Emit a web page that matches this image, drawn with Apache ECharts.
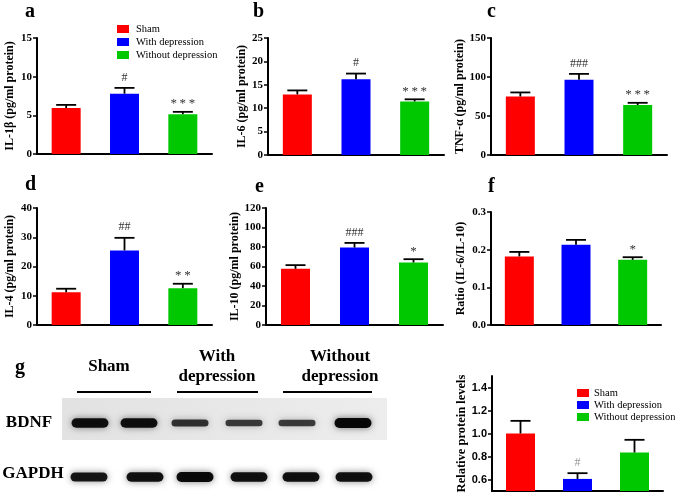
<!DOCTYPE html>
<html><head><meta charset="utf-8">
<script src="https://cdn.jsdelivr.net/npm/echarts@6/dist/echarts.min.js"></script>
<style>html,body{margin:0;padding:0;background:#fff}#c{width:675px;height:503px}</style>
</head><body><div id="c"></div>
<script>
// ---------- data ----------
const groups = ['Sham', 'With depression', 'Without depression'];

const il1bMean = [5.95, 7.8, 5.15];
const il1bErr  = [0.4, 0.75, 0.3];
const il1bSig  = ['', '#', '***'];

const il6Mean = [12.95, 16.2, 11.45];
const il6Err  = [0.85, 1.2, 0.45];
const il6Sig  = ['', '#', '***'];

const tnfMean = [75, 96.5, 64];
const tnfErr  = [5.2, 7.5, 2.9];
const tnfSig  = ['', '###', '***'];

const il4Mean = [11.2, 25.5, 12.6];
const il4Err  = [1.2, 4.3, 1.5];
const il4Sig  = ['', '##', '**'];

const il10Mean = [57.6, 79.4, 64.1];
const il10Err  = [3.8, 4.8, 3.4];
const il10Sig  = ['', '###', '*'];

const ratioMean = [0.182, 0.213, 0.173];
const ratioErr  = [0.012, 0.013, 0.007];
const ratioSig  = ['', '', '*'];

const bdnfMean = [1.0, 0.605, 0.835];
const bdnfErr  = [0.11, 0.05, 0.11];
const bdnfSig  = ['', '#', ''];

const bdnfTicks = [0.6, 0.8, 1.0, 1.2, 1.4];

// western blot band darkness (lanes: Sham x2, With x2, Without x2)
const bdnfBand  = [0.95, 0.95, 0.7, 0.65, 0.65, 1.0];
const gapdhBand = [0.9, 0.95, 1.0, 0.95, 0.95, 0.95];

// ---------- styles / layout ----------
const colors = ['#ff0000', '#0000ff', '#00c800'];
const SERIF = '"Liberation Serif", "Times New Roman", serif';
const SANS = '"Liberation Sans", Arial, sans-serif';

const panels = [
  {mean: il1bMean, err: il1bErr, sig: il1bSig, title: 'IL-1β (pg/ml protein)', grid: {left: 37, top: 38, width: 175, height: 116}, min: 0, max: 15, interval: 5, dec: 0, nameGap: 21},
  {mean: il6Mean, err: il6Err, sig: il6Sig, title: 'IL-6 (pg/ml protein)', grid: {left: 268, top: 38, width: 176, height: 117}, min: 0, max: 25, interval: 5, dec: 0, nameGap: 19},
  {mean: tnfMean, err: tnfErr, sig: tnfSig, title: 'TNF-α (pg/ml protein)', grid: {left: 491, top: 38, width: 176, height: 117}, min: 0, max: 150, interval: 50, dec: 0, nameGap: 23},
  {mean: il4Mean, err: il4Err, sig: il4Sig, title: 'IL-4 (pg/ml protein)', grid: {left: 37, top: 208, width: 175, height: 117}, min: 0, max: 40, interval: 10, dec: 0, nameGap: 21},
  {mean: il10Mean, err: il10Err, sig: il10Sig, title: 'IL-10 (pg/ml protein)', grid: {left: 266, top: 208, width: 177, height: 117}, min: 0, max: 120, interval: 20, dec: 0, nameGap: 22},
  {mean: ratioMean, err: ratioErr, sig: ratioSig, title: 'Ratio (IL-6/IL-10)', grid: {left: 491, top: 212, width: 170, height: 113}, min: 0, max: 0.3, interval: 0.1, dec: 1, nameGap: 24},
  {mean: bdnfMean, err: bdnfErr, sig: bdnfSig, title: 'Relative protein levels', grid: {left: 492, top: 376, width: 171, height: 115}, min: 0.5, max: 1.5, custom: bdnfTicks, dec: 1, nameGap: 21, sans: true, sigColor: '#999', titleSize: 12.5}
];

// asterisks are spread a little, as in the figure
const sigText = s => s.charAt(0) === '*' ? s.split('').join('\u2009') : s;

const grid = [], xAxis = [], yAxis = [], series = [];
panels.forEach((p, i) => {
  grid.push(Object.assign({containLabel: false}, p.grid));
  xAxis.push({
    type: 'category', gridIndex: i, data: groups,
    axisLine: {lineStyle: {color: '#000', width: 2}},
    axisTick: {alignWithLabel: true, length: 4, lineStyle: {color: '#000', width: 1.5}},
    axisLabel: {show: false}, splitLine: {show: false}
  });
  const y = {
    type: 'value', gridIndex: i, min: p.min, max: p.max,
    name: p.title, nameLocation: 'middle', nameGap: p.nameGap, nameRotate: 90,
    nameTextStyle: {fontFamily: SERIF, fontWeight: 'bold', fontSize: p.titleSize || 12, color: '#000'},
    axisLine: {show: true, lineStyle: {color: '#000', width: 2}},
    axisTick: {show: true, length: 4, lineStyle: {color: '#000', width: 1.5}},
    axisLabel: {margin: 5, fontFamily: p.sans ? SANS : SERIF, fontWeight: 'bold', fontSize: 11, color: '#000',
      formatter: v => Number(v).toFixed(p.dec)},
    splitLine: {show: false}
  };
  if (p.custom) {
    y.axisLabel.customValues = p.custom;
    y.axisTick.customValues = p.custom;
  } else {
    y.interval = p.interval;
  }
  yAxis.push(y);
  groups.forEach((g, k) => {
    series.push({
      type: 'bar', name: g, xAxisIndex: i, yAxisIndex: i,
      data: p.mean.map((v, j) => j === k ? v : '-'),
      barWidth: 29, barGap: '-100%', silent: true,
      itemStyle: {color: colors[k]}
    });
  });
  series.push({
    type: 'custom', xAxisIndex: i, yAxisIndex: i, silent: true, z: 5,
    data: p.mean.map((v, j) => [j, v, p.err[j]]),
    encode: {x: 0, y: 1},
    renderItem: (params, api) => {
      const x = api.value(0), m = api.value(1), e = api.value(2);
      const b = api.coord([x, m]);
      const t = api.coord([x, m + e]);
      const ch = [
        {type: 'line', shape: {x1: b[0], y1: b[1], x2: t[0], y2: t[1]}, style: {stroke: '#000', lineWidth: 1.8}},
        {type: 'line', shape: {x1: t[0] - 10, y1: t[1], x2: t[0] + 10, y2: t[1]}, style: {stroke: '#000', lineWidth: 1.8}}
      ];
      const s = p.sig[params.dataIndex];
      if (s) {
        const star = s.charAt(0) === '*';
        ch.push({type: 'text', style: {text: sigText(s), x: t[0], y: t[1] - (star ? 8 : 10.5), align: 'center', verticalAlign: 'middle',
          font: (star ? '13px ' : '12px ') + SERIF, fill: p.sigColor || '#333'}});
      }
      return {type: 'group', children: ch};
    }
  });
});

// ---------- decorative graphics: panel letters, blot ----------
const graphic = [];
const letter = (txt, x, y) => graphic.push({type: 'text', left: x, top: y, style: {text: txt, font: 'bold 20px ' + SERIF, fill: '#000'}});
letter('a', 25, 2); letter('b', 253, 2); letter('c', 487, 2);
letter('d', 25, 175); letter('e', 255, 177); letter('f', 488, 177);
letter('g', 15, 358);

const txt = (t, cx, cy, size) => graphic.push({type: 'text', x: cx, y: cy,
  style: {text: t, font: 'bold ' + size + 'px ' + SERIF, fill: '#000', align: 'center', verticalAlign: 'middle'}});
txt('Sham', 109, 367, 17);
txt('With', 217, 357, 17); txt('depression', 217, 377, 17);
txt('Without', 340, 357, 17); txt('depression', 340, 377, 17);
txt('BDNF', 29, 423, 17);
txt('GAPDH', 33, 474, 17);

[[77, 151], [177, 258], [283, 372]].forEach(s => graphic.push({type: 'line', shape: {x1: s[0], y1: 392, x2: s[1], y2: 392}, style: {stroke: '#000', lineWidth: 2}}));

graphic.push({type: 'rect', shape: {x: 62, y: 398, width: 325, height: 42},
  style: {fill: new echarts.graphic.LinearGradient(0, 0, 1, 0, [{offset: 0, color: '#e2e2e2'}, {offset: 1, color: '#ededed'}])}});

const bdnfX = [90, 139, 190, 244, 297, 353];
const gapdhX = [89, 145, 195, 249, 301, 354];
const band = (cx, cy, d, w) => graphic.push({type: 'rect', shape: {x: cx - w / 2, y: cy - 5 * d, width: w, height: 10 * d, r: 5},
  style: {fill: 'rgba(0,0,0,' + (0.3 + 0.65 * d) + ')', shadowBlur: 7, shadowColor: 'rgba(0,0,0,' + (0.55 * d) + ')'}});
bdnfBand.forEach((d, k) => band(bdnfX[k], 423, d, 37));
gapdhBand.forEach((d, k) => band(gapdhX[k], 477, d, 37));

const legendStyle = {
  orient: 'vertical', itemWidth: 12, itemHeight: 8, icon: 'rect', selectedMode: false,
  data: groups
};

const chart = echarts.init(document.getElementById('c'), null, {renderer: 'canvas'});
chart.setOption({
  animation: false,
  backgroundColor: '#fff',
  grid, xAxis, yAxis, series, graphic,
  legend: [
    Object.assign({left: 112, top: 18, itemGap: 1,
      textStyle: {fontFamily: SERIF, fontSize: 10.5, color: '#000', lineHeight: 12, padding: [0, 0, 0, 2]}}, legendStyle),
    Object.assign({left: 572, top: 382, itemGap: 0,
      textStyle: {fontFamily: SERIF, fontSize: 10.5, color: '#000', lineHeight: 12}}, legendStyle)
  ]
});
</script></body></html>
